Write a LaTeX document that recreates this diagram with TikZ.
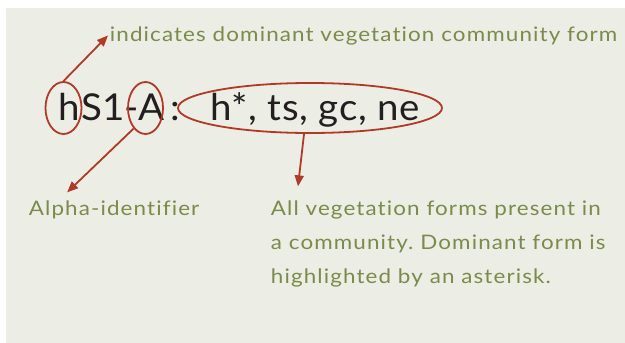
\documentclass[tikz,border=0pt]{standalone}
\usepackage{fontspec}
\setmainfont{Lato}[FakeStretch=1.12, LetterSpace=5.6, Ligatures=NoCommon]
\newfontfamily\codefont{Lato}[FakeStretch=1.04]
\newfontfamily\listfont{Lato}[FakeStretch=1.04, LetterSpace=1.8]
\usetikzlibrary{arrows.meta, positioning, shapes.geometric}
\definecolor{paper}{HTML}{ECEDE5}
\definecolor{rust}{HTML}{B03A26}
\definecolor{moss}{HTML}{7A8B4A}
\definecolor{ink}{HTML}{231F20}
\frenchspacing

\begin{document}
\begin{tikzpicture}[x=1pt, y=-1pt, ->, >={Triangle[length=11pt,width=9pt]}, line width=1.8pt, rust]
      \tikzstyle{code}=[text=ink, font=\codefont\fontsize{37}{40}\selectfont, inner sep=0pt]
      \tikzstyle{ring}=[ellipse, draw=rust, line width=1.8pt, inner sep=0pt, minimum width=36pt, minimum height=52pt]
      \tikzstyle{note}=[text=moss, font=\fontsize{20}{34}\selectfont, inner sep=1pt, align=left]
      \useasboundingbox (0,0) rectangle (625,343);
      \fill[paper] (6,8) rectangle (625,343);
      % code line
      \node[code, anchor=base west] (h) at (58,120) {h};
      \node[code] (s1) [base right=-1pt of h] {S1-};
      \node[code] (A) [base right=-1.5pt of s1] {A};
      \node[code] (colon) [base right=4pt of A] {:};
      \node[code, font=\listfont\fontsize{37}{40}\selectfont] (forms) [base right=28pt of colon] {h*, ts, gc, ne};
      % rings
      \node[ring] (hring) at (63.5,108) {};
      \node[ring, minimum width=35pt] (Aring) at (145.5,108) {};
      \node[ring, minimum width=264pt, minimum height=50pt] (formsring) at (310,108) {};
      % notes
      \node[note, anchor=base west] (dom) at (108,41) {indicates dominant vegetation community form};
      \node[note, anchor=base west] (alpha) at (27,215) {Alpha-identifier};
      \node[note, anchor=base west] (all) at (269,283) {All vegetation forms present in\\a community. Dominant form is\\highlighted by an asterisk.};
      % pointers
      \draw (hring.north) -- (dom.west);
      \draw (Aring.240) -- ([xshift=-47pt, yshift=6pt]alpha.north);
      \draw (formsring.257) -- ([xshift=29pt, yshift=12pt]all.north west);
\end{tikzpicture}
\end{document}
